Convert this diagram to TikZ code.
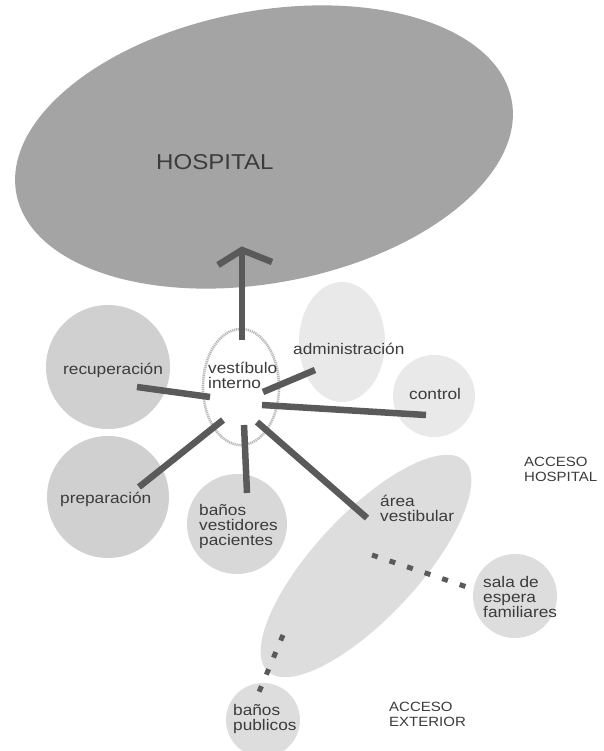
\documentclass[tikz,border=0pt]{standalone}
\usepackage{fontspec}
\setmainfont{Liberation Sans}[FakeStretch=1.12]
\usetikzlibrary{shapes.geometric}

\definecolor{ink}{HTML}{3C3C3C}
\definecolor{spoke}{HTML}{5A5A5A}
\definecolor{hospfill}{HTML}{A4A4A4}
\definecolor{roomA}{HTML}{D0D0D0}
\definecolor{roomB}{HTML}{D8D8D8}
\definecolor{roomC}{HTML}{DDDDDD}
\definecolor{roomD}{HTML}{E9E9E9}

% stacked lines, baseline of the block = baseline of the first line
\newcommand\lblock[1]{\vtop{\baselineskip=15pt\lineskiplimit=-100pt\halign{##\hfil\cr#1\crcr}}}

\tikzset{
  zone/.style={ellipse, inner sep=0pt, draw=none},
  room/.style={circle, inner sep=0pt, draw=none},
  lbl/.style={anchor=base west, inner sep=0pt, text=ink, font=\fontsize{15.4}{15}\selectfont},
  bigl/.style={anchor=base west, inner sep=0pt, text=ink, font=\fontsize{13.4}{14}\selectfont},
  link/.style={draw=spoke, line width=6.5pt},
  weak/.style={draw=spoke, line width=5pt, dash pattern=on 6pt off 12.5pt}
}

\begin{document}
\begin{tikzpicture}[x=1pt, y=-1pt]
\fill[white] (0,0) rectangle (603,751);
\useasboundingbox (0,0) rectangle (603,751);

% zones and rooms
\node[zone, fill=hospfill, minimum width=504, minimum height=272, rotate=10.7] (hosp) at (264,147) {};
\node[room, fill=roomA, minimum size=124] (recup) at (108,367) {};
\node[room, fill=roomA, minimum size=122] (prep) at (108,497) {};
\node[room, fill=roomB, minimum size=100] (banv) at (237,524) {};
\node[zone, fill=roomD, minimum width=86, minimum height=120] (admin) at (342,342) {};
\node[room, fill=roomD, minimum size=82] (ctrl) at (434,396) {};
\node[zone, fill=roomC, minimum width=288, minimum height=104, rotate=47] (area) at (366,566) {};
\node[room, fill=roomC, minimum size=84] (sala) at (515,596) {};
\node[room, fill=roomC, minimum size=74] (banp) at (263,720) {};
\node[zone, fill=white, draw=gray!55, line width=2.6pt, dash pattern=on 1.2pt off 0.8pt,
      minimum width=76, minimum height=116] (vest) at (241,387) {};

% spoke end points
\coordinate (vUp)   at (242,340);
\coordinate (tip)   at (242,250);
\coordinate (armL)  at (218,265);
\coordinate (armR)  at (272,262);
\coordinate (vRec)  at (210,397);
\coordinate (eRec)  at (137,387);
\coordinate (vAdm)  at (263,392);
\coordinate (eAdm)  at (315,370);
\coordinate (vCtl)  at (262,405);
\coordinate (eCtl)  at (426,415);
\coordinate (vPre)  at (223,420);
\coordinate (ePre)  at (139,487);
\coordinate (vBan)  at (244,425);
\coordinate (eBan)  at (247,493);
\coordinate (vAre)  at (257,422);
\coordinate (eAre)  at (367,518);
\coordinate (aSal)  at (372,555);
\coordinate (eSal)  at (470,588);
\coordinate (aPub)  at (283,635);
\coordinate (ePub)  at (259,692);

% solid links from the inner vestibule
\draw[link] (vUp) -- (tip);
\draw[link, line join=miter] (armL) -- (tip) -- (armR);
\draw[link] (vRec) -- (eRec);
\draw[link] (vAdm) -- (eAdm);
\draw[link] (vCtl) -- (eCtl);
\draw[link] (vPre) -- (ePre);
\draw[link] (vBan) -- (eBan);
\draw[link] (vAre) -- (eAre);

% weaker links from the vestibular area
\draw[weak] (aSal) -- (eSal);
\draw[weak] (aPub) -- (ePub);

% labels
\node[anchor=base west, inner sep=0pt, text=ink, font=\fontsize{21.5}{22}\selectfont] (tHosp) at (156,170) {HOSPITAL};
\node[lbl] (tRec) at (63,374) {recuperación};
\node[lbl] (tVest) at (208,373) {\lblock{vestíbulo\cr interno}};
\node[lbl] (tAdm) at (293,354) {administración};
\node[lbl] (tCtl) at (409,399) {control};
\node[lbl] (tPre) at (60,503) {preparación};
\node[lbl] (tBanv) at (199,515) {\lblock{baños\cr vestidores\cr pacientes}};
\node[lbl] (tArea) at (380,506) {\lblock{área\cr vestibular}};
\node[lbl] (tSala) at (483,587) {\lblock{sala de\cr espera\cr familiares}};
\node[lbl] (tBanp) at (233,715) {\lblock{baños\cr publicos}};
\node[bigl] (tAccH) at (524,466) {\lblock{ACCESO\cr HOSPITAL}};
\node[bigl] (tAccE) at (389,711) {\lblock{ACCESO\cr EXTERIOR}};
\end{tikzpicture}
\end{document}
